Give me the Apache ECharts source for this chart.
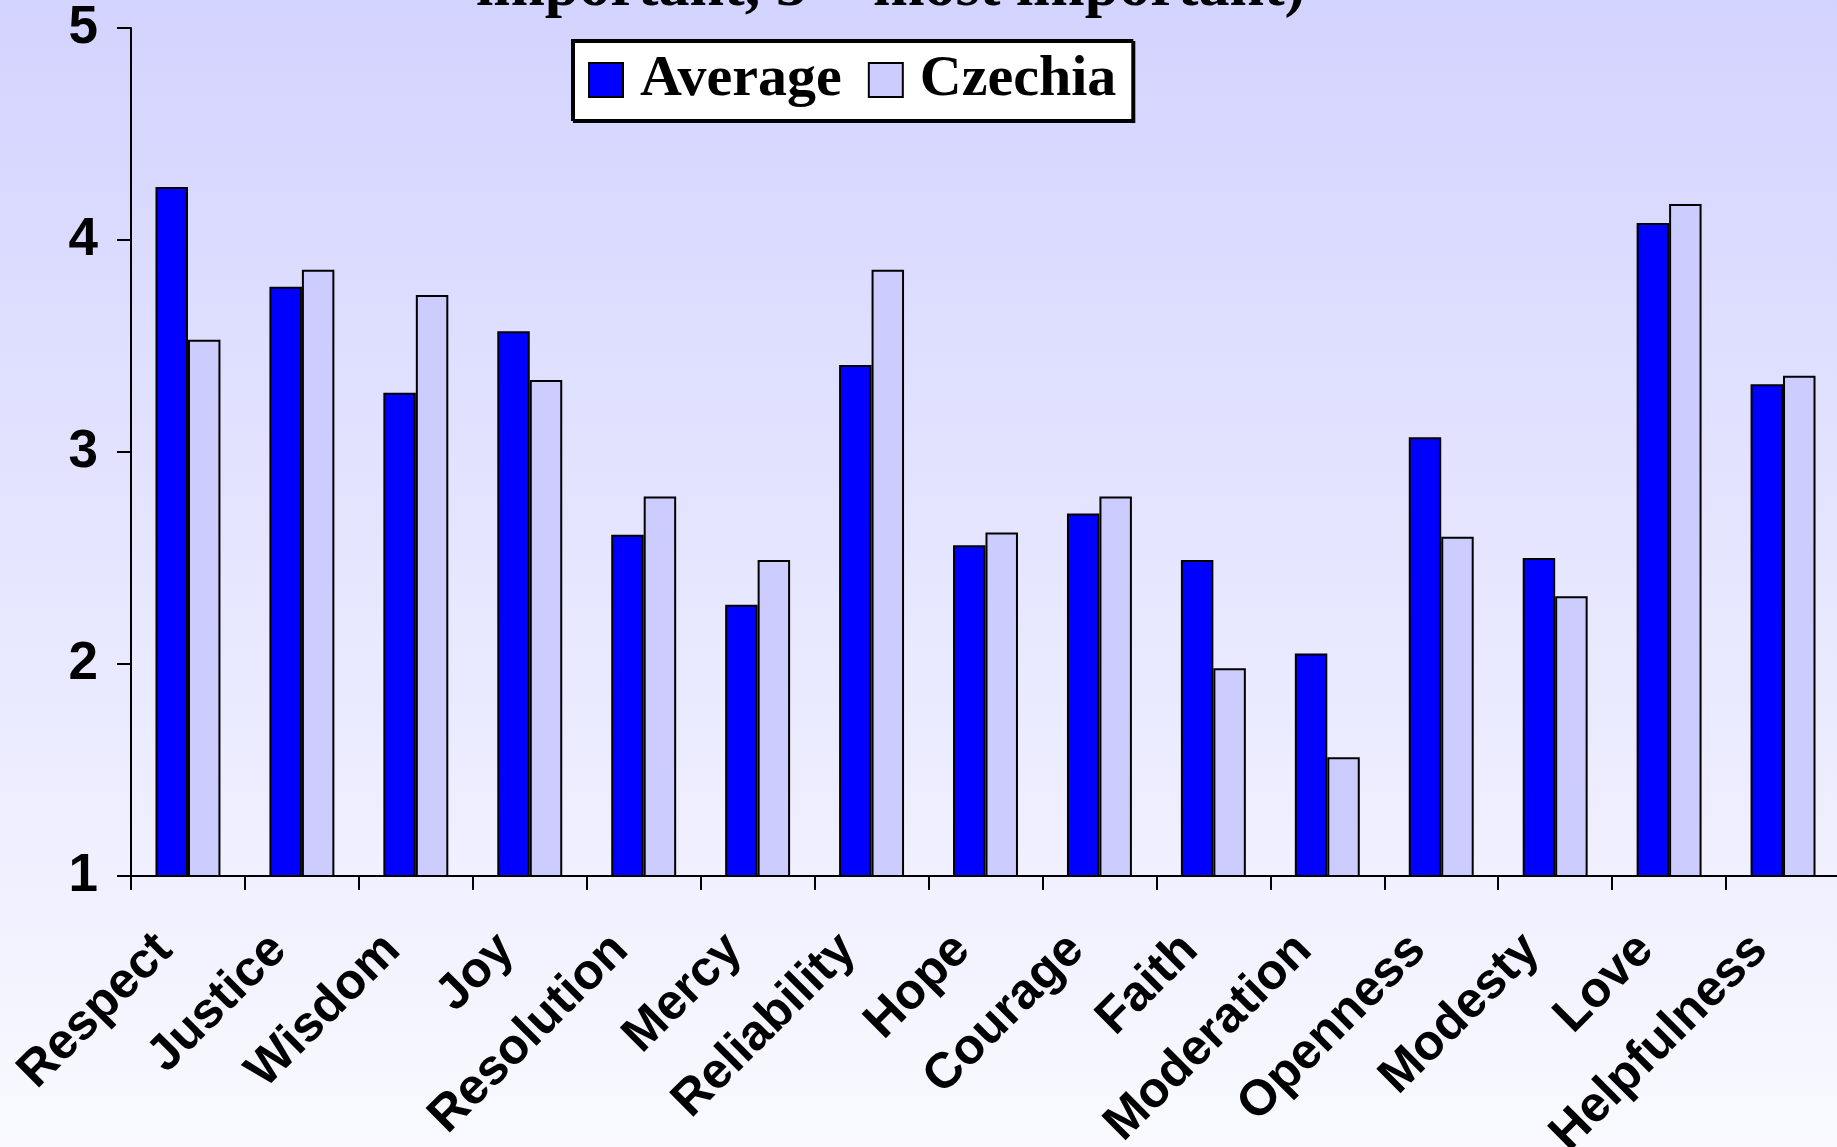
<!DOCTYPE html>
<html>
<head>
<meta charset="utf-8">
<script src="https://cdn.jsdelivr.net/npm/echarts@6/dist/echarts.min.js"></script>
<style>
html,body{margin:0;padding:0;}
#chart{width:1837px;height:1147px;}
</style>
</head>
<body>
<div id="chart"></div>
<script>
const titleText = 'important, 5 = most important)';
const categories = ['Respect','Justice','Wisdom','Joy','Resolution','Mercy','Reliability','Hope','Courage','Faith','Moderation','Openness','Modesty','Love','Helpfulness'];
const seriesNames = ['Average','Czechia'];
const average = [4.25, 3.78, 3.28, 3.57, 2.61, 2.28, 3.41, 2.56, 2.71, 2.49, 2.05, 3.07, 2.50, 4.08, 3.32];
const czechia = [3.53, 3.86, 3.74, 3.34, 2.79, 2.49, 3.86, 2.62, 2.79, 1.98, 1.56, 2.60, 2.32, 4.17, 3.36];
const yMin = 1, yMax = 5, yStep = 1;

const chart = echarts.init(document.getElementById('chart'));
const sans = '"Liberation Sans", Arial, sans-serif';
const serif = '"Liberation Serif", "Times New Roman", serif';
chart.setOption({
  animation: false,
  backgroundColor: {
    type: 'linear', x: 0, y: 0, x2: 0, y2: 1,
    colorStops: [{offset: 0, color: '#D3D3FF'}, {offset: 1, color: '#F9F9FF'}]
  },
  title: {
    text: titleText,
    left: 476,
    top: -42,
    padding: 0,
    textStyle: {fontFamily: serif, fontWeight: 'bold', fontSize: 62, color: '#000'}
  },
  legend: {
    left: 572,
    top: 40,
    padding: [11, 16, 11, 16],
    itemGap: 26,
    itemWidth: 34,
    itemHeight: 34,
    backgroundColor: '#fff',
    borderColor: '#000',
    borderWidth: 2,
    borderRadius: 0,
    shadowColor: '#000',
    shadowBlur: 0,
    shadowOffsetX: 2,
    shadowOffsetY: 2,
    icon: 'rect',
    textStyle: {fontFamily: serif, fontWeight: 'bold', fontSize: 58, color: '#000', padding: [0, 0, 0, 12]},
    data: seriesNames
  },
  grid: {left: 131, right: -3, top: 28, bottom: 271, containLabel: false, outerBoundsMode: 'none'},
  xAxis: {
    type: 'category',
    data: categories,
    axisLine: {lineStyle: {color: '#000', width: 2}},
    axisTick: {show: true, length: 14, lineStyle: {color: '#000', width: 2}},
    axisLabel: {
      rotate: 45, margin: 43, interval: 0,
      padding: [0, 33, 0, 0],
      fontFamily: sans, fontWeight: 'bold', fontSize: 50, color: '#000'
    }
  },
  yAxis: {
    type: 'value',
    min: yMin, max: yMax, interval: yStep,
    splitLine: {show: false},
    axisLine: {show: true, lineStyle: {color: '#000', width: 2}},
    axisTick: {show: true, length: 14, lineStyle: {color: '#000', width: 2}},
    axisLabel: {margin: 33, fontFamily: sans, fontWeight: 'bold', fontSize: 53, color: '#000'}
  },
  series: [
    {
      name: seriesNames[0], type: 'bar', data: average,
      barWidth: '28.5%', barGap: '0%',
      itemStyle: {color: '#0000FF', borderColor: '#000', borderWidth: 2}
    },
    {
      name: seriesNames[1], type: 'bar', data: czechia,
      barWidth: '28.5%', barGap: '0%',
      itemStyle: {color: '#CCCCFF', borderColor: '#000', borderWidth: 2}
    }
  ]
});
</script>
</body>
</html>
